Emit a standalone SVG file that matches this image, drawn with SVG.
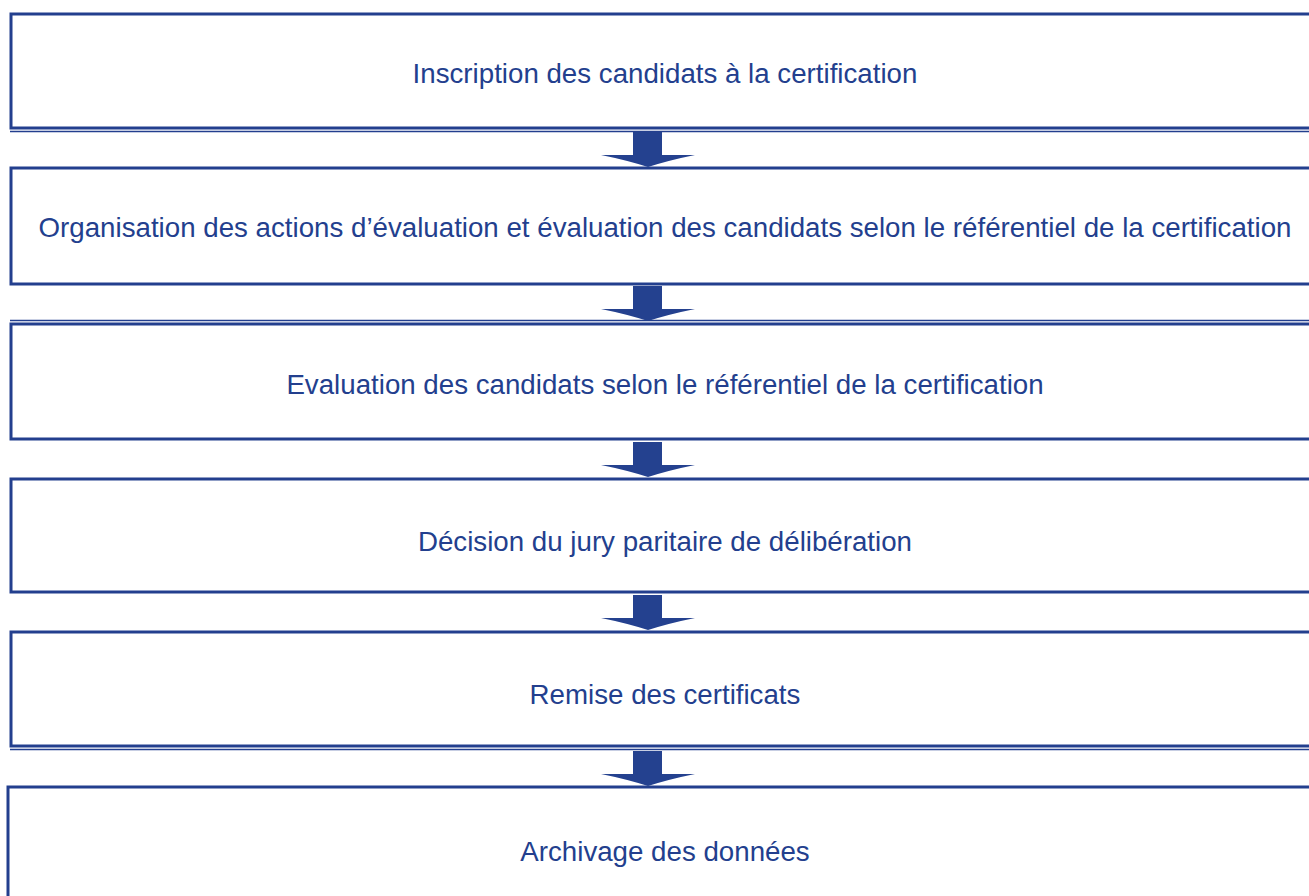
<svg xmlns="http://www.w3.org/2000/svg" xmlns:xlink="http://www.w3.org/1999/xlink" width="1309" height="896" viewBox="0 0 1309 896">
<style>
.box{fill:#ffffff;stroke:#233F8E;stroke-width:3}
.dbl{stroke:#233F8E;stroke-width:1.4;fill:none}
.lbl{font-family:"Liberation Sans",Arial,sans-serif;font-size:27.7px;fill:#233F8E;text-anchor:middle}
.arr{fill:#24418F}
</style>
<defs>
<path id="arrow" d="M633,0 H662 V23 L695,23 Q670,28 648,35 Q626,28 601,23 L633,23 Z"/>
</defs>
<rect width="1309" height="896" fill="#ffffff"/>
<g id="node1">
<rect class="box" x="11" y="14" width="1320" height="114"/>
<line class="dbl" x1="10" y1="131.5" x2="1309" y2="131.5"/>
<text class="lbl" x="665" y="83">Inscription des candidats à la certification</text>
</g>
<g id="node2">
<rect class="box" x="11" y="168" width="1320" height="116"/>
<text class="lbl" x="665" y="237">Organisation des actions d’évaluation et évaluation des candidats selon le référentiel de la certification</text>
</g>
<g id="node3">
<rect class="box" x="11" y="324" width="1320" height="115"/>
<line class="dbl" x1="10" y1="320.5" x2="1309" y2="320.5"/>
<text class="lbl" x="665" y="394">Evaluation des candidats selon le référentiel de la certification</text>
</g>
<g id="node4">
<rect class="box" x="11" y="479" width="1320" height="113"/>
<text class="lbl" x="665" y="551">Décision du jury paritaire de délibération</text>
</g>
<g id="node5">
<rect class="box" x="11" y="632" width="1320" height="114"/>
<line class="dbl" x1="10" y1="749.5" x2="1309" y2="749.5"/>
<text class="lbl" x="665" y="704">Remise des certificats</text>
</g>
<g id="node6">
<rect class="box" x="8" y="787" width="1320" height="130"/>
<text class="lbl" x="665" y="861">Archivage des données</text>
</g>
<g id="connectors">
<use xlink:href="#arrow" class="arr" transform="translate(0,132)"/>
<use xlink:href="#arrow" class="arr" transform="translate(0,286)"/>
<use xlink:href="#arrow" class="arr" transform="translate(0,442)"/>
<use xlink:href="#arrow" class="arr" transform="translate(0,595)"/>
<use xlink:href="#arrow" class="arr" transform="translate(0,751)"/>
</g>
</svg>
